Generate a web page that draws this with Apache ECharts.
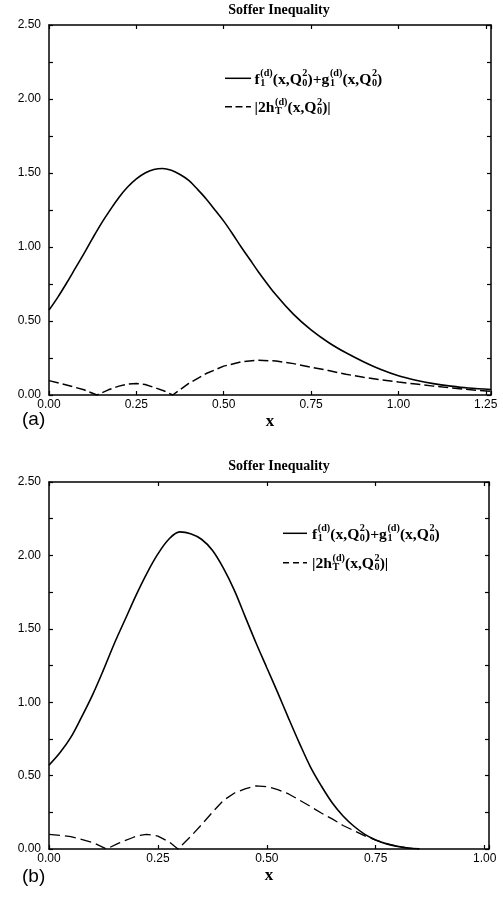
<!DOCTYPE html>
<html><head><meta charset="utf-8">
<script src="https://cdn.jsdelivr.net/npm/echarts@6/dist/echarts.min.js"></script>
<style>html,body{margin:0;padding:0;background:#fff}#c{width:503px;height:898px}</style>
</head><body><div id="c"></div>
<script>
// ---------- Panel (a) data ----------
const xA_solid = [0.000,0.025,0.050,0.075,0.100,0.125,0.150,0.175,0.200,0.225,0.250,0.275,0.300,0.325,0.350,0.375,0.400,0.425,0.450,0.475,0.500,0.525,0.550,0.575,0.600,0.65,0.70,0.75,0.80,0.85,0.90,0.95,1.00,1.05,1.10,1.15,1.20,1.265];
const yA_solid = [0.574,0.66,0.755,0.855,0.955,1.06,1.16,1.25,1.335,1.405,1.46,1.50,1.523,1.53,1.518,1.49,1.45,1.39,1.325,1.25,1.175,1.09,1.00,0.915,0.83,0.675,0.545,0.44,0.355,0.285,0.225,0.172,0.130,0.100,0.077,0.060,0.047,0.037];
const xA_dash = [0.00,0.05,0.10,0.137,0.17,0.20,0.225,0.25,0.275,0.30,0.33,0.354,0.40,0.45,0.50,0.55,0.60,0.65,0.70,0.75,0.80,0.85,0.90,0.95,1.00,1.05,1.10,1.15,1.20,1.265];
const yA_dash = [0.097,0.068,0.035,0.0,0.035,0.060,0.073,0.078,0.071,0.052,0.027,0.0,0.078,0.145,0.195,0.224,0.235,0.230,0.212,0.188,0.165,0.14,0.12,0.103,0.088,0.074,0.06,0.048,0.037,0.025];

// ---------- Panel (b) data ----------
const xB_solid = [0.000,0.025,0.050,0.075,0.100,0.125,0.150,0.175,0.200,0.225,0.250,0.275,0.300,0.325,0.350,0.375,0.400,0.425,0.450,0.475,0.500,0.525,0.550,0.575,0.600,0.625,0.650,0.675,0.700,0.725,0.750,0.775,0.800,0.825,0.850];
const yB_solid = [0.571,0.655,0.76,0.90,1.05,1.22,1.40,1.565,1.73,1.88,2.01,2.11,2.16,2.148,2.11,2.035,1.915,1.765,1.585,1.405,1.235,1.065,0.89,0.72,0.56,0.43,0.315,0.225,0.155,0.10,0.062,0.035,0.018,0.007,0.002];
const xB_dash = [0.00,0.05,0.10,0.132,0.16,0.19,0.205,0.224,0.25,0.275,0.296,0.325,0.35,0.375,0.40,0.425,0.45,0.475,0.50,0.525,0.55,0.575,0.60,0.625,0.65,0.675,0.70,0.725,0.75,0.775,0.80,0.825,0.85];
const yB_dash = [0.10,0.085,0.045,0.0,0.04,0.075,0.092,0.10,0.088,0.05,0.0,0.085,0.165,0.25,0.33,0.38,0.41,0.43,0.425,0.405,0.375,0.333,0.29,0.245,0.205,0.16,0.125,0.09,0.061,0.036,0.018,0.006,0.0];

// ---------- Tick labels ----------
const yTickLabels = ['0.00','0.50','1.00','1.50','2.00','2.50'];
const xTickLabelsA = ['0.00','0.25','0.50','0.75','1.00','1.25'];
const xTickLabelsB = ['0.00','0.25','0.50','0.75','1.00'];
const titleText = 'Soffer Inequality';
const axisNameText = 'x';
const panelLabels = ['(a)','(b)'];

function zip(xs, ys){ return xs.map((x,i)=>[x, ys[i]]); }

const BLACK = '#000';
const SANS = '"Liberation Sans", Arial, sans-serif';
const SERIF = '"Liberation Serif", "Times New Roman", serif';

function xLabelFmt(labels){
  return function(v){
    const i = Math.round(v/0.25);
    if (Math.abs(v - i*0.25) > 1e-6) return '';
    return labels[i] !== undefined ? labels[i] : '';
  };
}
function yLabelFmt(v){
  const i = Math.round(v/0.5);
  if (Math.abs(v - i*0.5) > 1e-6) return '';
  return yTickLabels[i] || '';
}

function xAxisPair(gridIndex, max, labels){
  const common = {
    type:'value', gridIndex, min:0, max, interval:0.25,
    axisLine:{show:true, onZero:false, lineStyle:{color:BLACK, width:1.5}},
    axisTick:{show:true, inside:true, length:4, lineStyle:{color:BLACK, width:1.2}},
    splitLine:{show:false}
  };
  return [
    Object.assign({}, common, {
      position:'bottom',
      axisLabel:{show:true, color:BLACK, fontFamily:SANS, fontSize:12, margin:4, formatter:xLabelFmt(labels)},
      name:axisNameText, nameLocation:'middle', nameGap:18,
      nameTextStyle:{color:BLACK, fontFamily:SERIF, fontWeight:'bold', fontSize:17}
    }),
    Object.assign({}, common, {position:'top', axisLabel:{show:false}})
  ];
}
function yAxisPair(gridIndex){
  const common = {
    type:'value', gridIndex, min:0, max:2.5, interval:0.5,
    axisLine:{show:true, onZero:false, lineStyle:{color:BLACK, width:1.5}},
    axisTick:{show:true, inside:true, length:4, lineStyle:{color:BLACK, width:1.2}},
    minorTick:{show:true, splitNumber:2, length:4, lineStyle:{color:BLACK, width:1.2}},
    splitLine:{show:false}, minorSplitLine:{show:false}
  };
  return [
    Object.assign({}, common, {position:'left',
      axisLabel:{show:true, color:BLACK, fontFamily:SANS, fontSize:12, margin:8, formatter:yLabelFmt}}),
    Object.assign({}, common, {position:'right', axisLabel:{show:false}})
  ];
}

// ---------- legend text builder (math-like text with stacked scripts) ----------
const mctx = document.createElement('canvas').getContext('2d');
function tw(t, size){ mctx.font = 'bold ' + size + 'px ' + SERIF; return mctx.measureText(t).width; }
const MAIN = 13, SCR = 8.5;
function partsWidth(parts, k){
  let s = 0;
  parts.forEach(p => { s += (typeof p === 'string') ? tw(p, MAIN*k) : Math.max(tw(p[0], SCR*k), tw(p[1], SCR*k)) + 0.5*k; });
  return s;
}
function buildMath(x0, yMid, parts, k){
  const els = [];
  let cx = x0;
  const st = (t, size) => ({text:t, font:'bold '+size+'px '+SERIF, fill:BLACK, align:'left', verticalAlign:'middle', textAlign:'left', textVerticalAlign:'middle'});
  parts.forEach(p => {
    if (typeof p === 'string') {
      els.push({type:'text', x:cx, y:yMid, silent:true, style:st(p, MAIN*k)});
      cx += tw(p, MAIN*k);
    } else {
      els.push({type:'text', x:cx+0.5*k, y:yMid - 5*k, silent:true, style:st(p[0], SCR*k)});
      els.push({type:'text', x:cx+0.5*k, y:yMid + 3*k, silent:true, style:st(p[1], SCR*k)});
      cx += Math.max(tw(p[0], SCR*k), tw(p[1], SCR*k)) + 0.5*k;
    }
  });
  return els;
}
const legendSolidParts = ['f', ['(d)','1'], '(x,Q', ['2','0'], ')+g', ['(d)','1'], '(x,Q', ['2','0'], ')'];
const legendDashParts = ['|2h', ['(d)','T'], '(x,Q', ['2','0'], ')|'];
let KL = 135 / partsWidth(legendSolidParts, 1);
KL = Math.max(0.85, Math.min(1.2, KL));

function legendBlock(lx1, lx2, ySolid, yDash, tx, dash){
  const els = [];
  els.push({type:'line', silent:true, shape:{x1:lx1, y1:ySolid, x2:lx2, y2:ySolid}, style:{stroke:BLACK, lineWidth:1.5}});
  els.push({type:'line', silent:true, shape:{x1:lx1, y1:yDash, x2:lx2, y2:yDash}, style:{stroke:BLACK, lineWidth:1.5, lineDash:dash}});
  return els.concat(buildMath(tx, ySolid + 1.5, legendSolidParts, KL))
            .concat(buildMath(tx, yDash + 1.5, legendDashParts, KL));
}

const graphics = [
  {type:'text', x:279, y:10, silent:true, style:{text:titleText, font:'bold 14px '+SERIF, fill:BLACK, align:'center', verticalAlign:'middle', textAlign:'center', textVerticalAlign:'middle'}},
  {type:'text', x:279, y:466, silent:true, style:{text:titleText, font:'bold 14px '+SERIF, fill:BLACK, align:'center', verticalAlign:'middle', textAlign:'center', textVerticalAlign:'middle'}},
  {type:'text', x:22, y:420, silent:true, style:{text:panelLabels[0], font:'19px '+SANS, fill:BLACK, align:'left', verticalAlign:'middle', textAlign:'left', textVerticalAlign:'middle'}},
  {type:'text', x:22, y:877, silent:true, style:{text:panelLabels[1], font:'19px '+SANS, fill:BLACK, align:'left', verticalAlign:'middle', textAlign:'left', textVerticalAlign:'middle'}}
].concat(legendBlock(225, 251, 78.3, 106.7, 254.5, [7,3.5]))
 .concat(legendBlock(283, 307, 533.3, 562.7, 312, [6,4]));

const xa = xAxisPair(0, 1.265, xTickLabelsA);
const xb = xAxisPair(1, 1.01, xTickLabelsB);
const ya = yAxisPair(0);
const yb = yAxisPair(1);

const option = {
  animation:false,
  backgroundColor:'#fff',
  grid:[
    {left:49, top:25, width:442, height:370},
    {left:49, top:482, width:440, height:367}
  ],
  xAxis:[xa[0], xa[1], xb[0], xb[1]],
  yAxis:[ya[0], ya[1], yb[0], yb[1]],
  series:[
    {type:'line', xAxisIndex:0, yAxisIndex:0, data:zip(xA_solid, yA_solid), smooth:0.35, showSymbol:false, lineStyle:{color:BLACK, width:1.6}},
    {type:'line', xAxisIndex:0, yAxisIndex:0, data:zip(xA_dash, yA_dash), smooth:false, showSymbol:false, lineStyle:{color:BLACK, width:1.5, type:[10,4]}},
    {type:'line', xAxisIndex:2, yAxisIndex:2, data:zip(xB_solid, yB_solid), smooth:0.35, showSymbol:false, lineStyle:{color:BLACK, width:1.6}},
    {type:'line', xAxisIndex:2, yAxisIndex:2, data:zip(xB_dash, yB_dash), smooth:false, showSymbol:false, lineStyle:{color:BLACK, width:1.3, type:[11,5]}}
  ],
  graphic:{elements:graphics}
};
const chart = echarts.init(document.getElementById('c'));
chart.setOption(option);
</script>
</body></html>
